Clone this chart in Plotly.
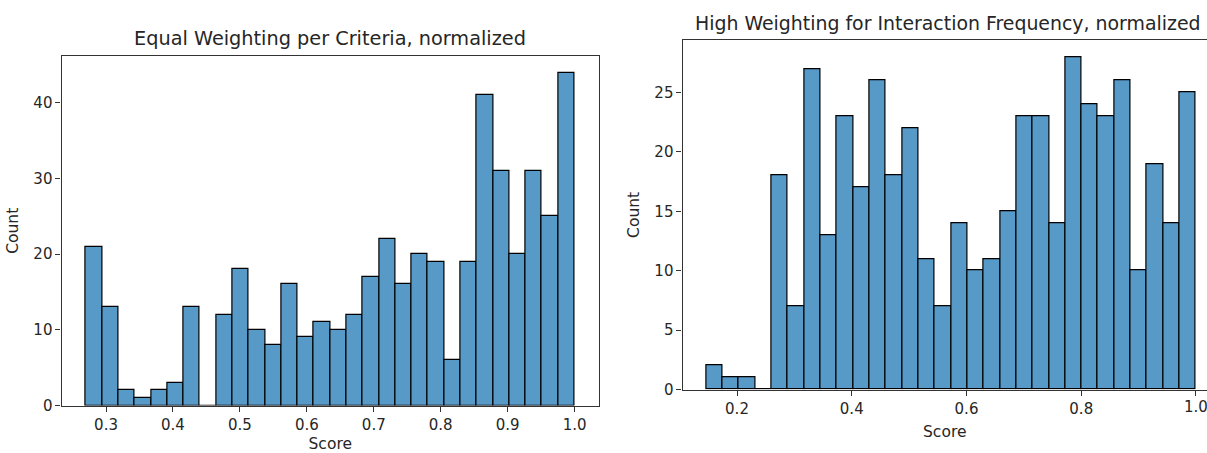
import plotly.graph_objects as go

# ---- data ----
left_title = "Equal Weighting per Criteria, normalized"
left_bin_start, left_bin_end = 0.27, 1.0
left_counts = [21, 13, 2, 1, 2, 3, 13, 0, 12, 18, 10, 8, 16, 9, 11,
               10, 12, 17, 22, 16, 20, 19, 6, 19, 41, 31, 20, 31, 25, 44]
left_xticks = [0.3, 0.4, 0.5, 0.6, 0.7, 0.8, 0.9, 1.0]
left_yticks = [0, 10, 20, 30, 40]

right_title = "High Weighting for Interaction Frequency, normalized"
right_bin_start, right_bin_end = 0.146, 1.0
right_counts = [2, 1, 1, 0, 18, 7, 27, 13, 23, 17, 26, 18, 22, 11, 7,
                14, 10, 11, 15, 23, 23, 14, 28, 24, 23, 26, 10, 19, 14, 25]
right_xticks = [0.2, 0.4, 0.6, 0.8, 1.0]
right_yticks = [0, 5, 10, 15, 20, 25]

W, H = 1207, 453
BAR = "#5799c7"
TXT = "#262626"
FONT = "DejaVu Sans"
TICK_SIZE = 15
LABEL_SIZE = 15.5
TITLE_SIZE = 19.3
RIGHT_TITLE_SIZE = 18.9


def bins(start, end, counts):
    n = len(counts)
    w = (end - start) / n
    centers = [start + w * (i + 0.5) for i in range(n)]
    return centers, w


fig = go.Figure()

lc, lw = bins(left_bin_start, left_bin_end, left_counts)
rc, rw = bins(right_bin_start, right_bin_end, right_counts)

fig.add_trace(go.Bar(x=lc, y=left_counts, width=lw, xaxis="x", yaxis="y",
                     marker=dict(color=BAR, line=dict(color="black", width=1.2)),
                     showlegend=False, hoverinfo="skip"))
fig.add_trace(go.Bar(x=rc, y=right_counts, width=rw, xaxis="x2", yaxis="y2",
                     marker=dict(color=BAR, line=dict(color="black", width=1.2)),
                     showlegend=False, hoverinfo="skip"))


def px_x(p):
    return p / W


def px_y(p):
    return (H - p) / H


axis_common = dict(showgrid=False, zeroline=False, showline=True, linecolor="#333333",
                   linewidth=1.1, ticks="outside", ticklen=5, tickwidth=1.1,
                   tickcolor="#333333", automargin=False,
                   tickfont=dict(family=FONT, size=TICK_SIZE, color=TXT))

# right-axis tick labels: the last one (1.0) sits at the figure edge,
# plotly would hide it, so it is drawn as an annotation at its data position
right_ticktext = [f"{v:.1f}" for v in right_xticks]
right_edge_label = right_ticktext[-1]
right_ticktext[-1] = ""

l_span = left_bin_end - left_bin_start
fig.update_layout(
    width=W, height=H,
    margin=dict(l=0, r=0, t=0, b=0),
    paper_bgcolor="white", plot_bgcolor="white",
    bargap=0,
    font=dict(family=FONT, color=TXT),
    xaxis=dict(domain=[px_x(61.5), px_x(599)],
               range=[left_bin_start - 0.05 * l_span, left_bin_end + 0.05 * l_span],
               tickvals=left_xticks, ticktext=[f"{v:.1f}" for v in left_xticks],
               mirror=True, anchor="y",
               title=dict(text="Score", font=dict(family=FONT, size=LABEL_SIZE, color=TXT), standoff=11),
               **axis_common),
    yaxis=dict(domain=[px_y(405.5), px_y(56)],
               range=[0, max(left_counts) * 1.05],
               tickvals=left_yticks, mirror=True, anchor="x",
               title=dict(text="Count", font=dict(family=FONT, size=LABEL_SIZE, color=TXT), standoff=10),
               **axis_common),
    xaxis2=dict(domain=[px_x(682.5), 1.0],
                range=[0.105, 1.0192],
                tickvals=right_xticks, ticktext=right_ticktext,
                mirror=True, anchor="y2",
                title=dict(text="Score", font=dict(family=FONT, size=LABEL_SIZE, color=TXT), standoff=9),
                **axis_common),
    yaxis2=dict(domain=[px_y(389.5), px_y(40.3)],
                range=[0, max(right_counts) * 1.05],
                tickvals=right_yticks, mirror=False, anchor="x2",
                title=dict(text="Count", font=dict(family=FONT, size=LABEL_SIZE, color=TXT), standoff=10),
                **axis_common),
    annotations=[
        dict(text=left_title, xref="paper", yref="paper", x=px_x(330), y=px_y(52),
             xanchor="center", yanchor="bottom", showarrow=False,
             font=dict(family=FONT, size=TITLE_SIZE, color=TXT)),
        dict(text=right_title, xref="paper", yref="paper", x=px_x(1203), y=px_y(36),
             xanchor="right", yanchor="bottom", showarrow=False,
             font=dict(family=FONT, size=RIGHT_TITLE_SIZE, color=TXT)),
        dict(text=right_edge_label, xref="x2", yref="paper", x=right_xticks[-1], y=px_y(396),
             xanchor="center", yanchor="top", showarrow=False,
             font=dict(family=FONT, size=TICK_SIZE, color=TXT)),
    ],
)

fig.write_html("out.html",
               config={"displayModeBar": False},
               post_script="document.body.style.margin='0';document.body.style.overflow='hidden';")
